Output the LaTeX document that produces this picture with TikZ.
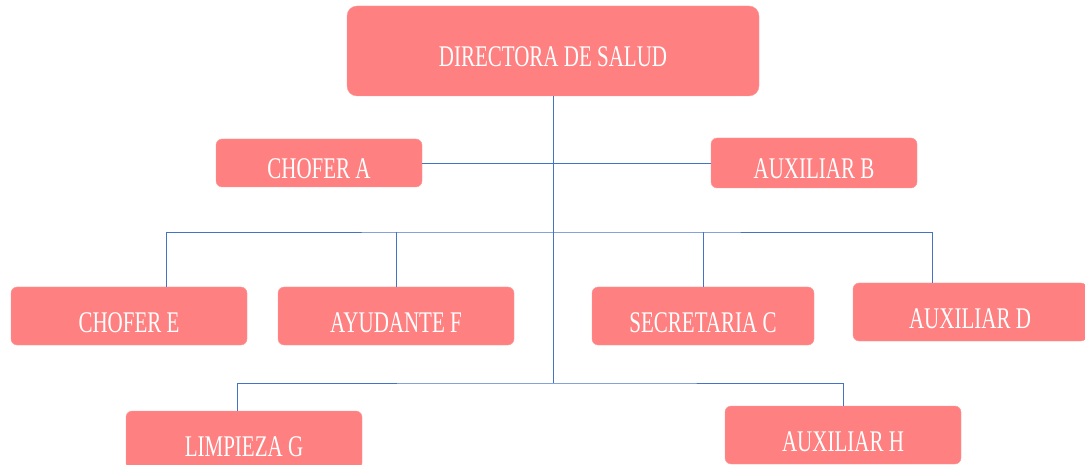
\documentclass[tikz,border=0pt]{standalone}
\usepackage{fontspec}
\setmainfont[FakeStretch=0.70]{Liberation Serif}
\usepackage{amsmath,amsfonts,amssymb}

\definecolor{cajarosa}{HTML}{FF8080}
\definecolor{lineaazul}{HTML}{4472C4}

\begin{document}
\begin{tikzpicture}[x=1pt, y=-1pt,
  cargo/.style={fill=cajarosa, draw=cajarosa!80!white, rounded corners=6pt, inner sep=0pt,
    text=white, font=\fontsize{30}{32}\selectfont, text height=32pt, text depth=0pt},
  enlace/.style={draw=lineaazul, line width=0.8pt}]

\clip (0,0) rectangle (1085,465);

\node [cargo, rounded corners=10pt, minimum width=412pt, minimum height=90pt] (dir) at (553, 51) {DIRECTORA DE SALUD};

\node [cargo, minimum width=206pt, minimum height=48pt] (chA) at (319, 163) {CHOFER A};
\node [cargo, minimum width=206pt, minimum height=50pt] (auxB) at (814, 163) {AUXILIAR B};

% Second row
\node [cargo, minimum width=236pt, minimum height=58pt] (chE) at (129, 316) {CHOFER E};
\node [cargo, minimum width=236pt, minimum height=58pt] (ayF) at (396, 316) {AYUDANTE F};
\node [cargo, minimum width=222pt, minimum height=58pt] (secC) at (703, 316) {SECRETARIA C};
\node [cargo, minimum width=234pt, minimum height=58pt] (auxD) at (970, 312) {AUXILIAR D};

% Third row
\node [cargo, minimum width=236pt, minimum height=58pt] (limG) at (244, 440) {LIMPIEZA G};
\node [cargo, minimum width=236pt, minimum height=58pt] (auxH) at (843, 435) {AUXILIAR H};

% -------- Lines -----------
\coordinate (fila2) at (553, 232);
\coordinate (fila3) at (553, 383);

\draw [enlace] (dir.south) -- (fila3);
\draw [enlace] (chA.east) -- (auxB.west);

\draw [enlace] (chE.north -| 166,0) |- (fila2) -| (auxD.north -| 932,0);
\draw [enlace] (ayF.north) -- (ayF.north |- fila2);
\draw [enlace] (secC.north) -- (secC.north |- fila2);

\draw [enlace] (limG.north -| 237,0) |- (fila3) -| (auxH.north);

\end{tikzpicture}
\end{document}
